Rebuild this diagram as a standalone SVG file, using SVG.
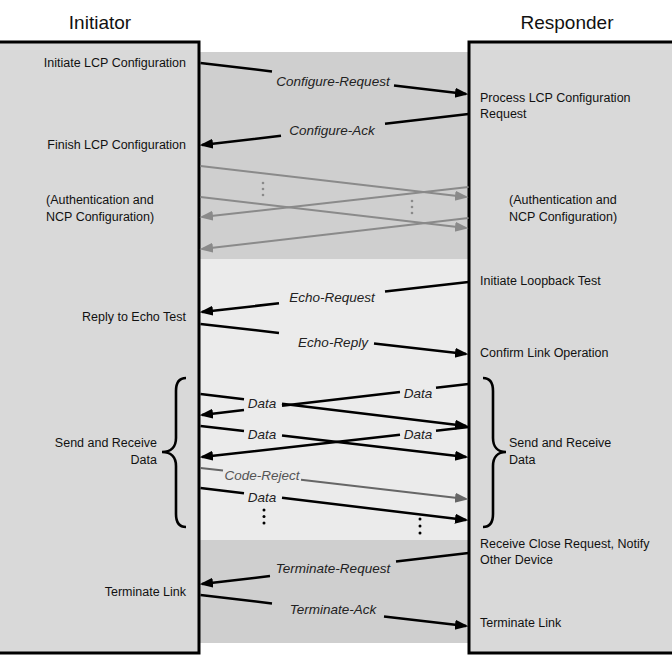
<svg xmlns="http://www.w3.org/2000/svg" width="672" height="660" viewBox="0 0 672 660">
<style>
.t{font-family:"Liberation Sans",Arial,sans-serif;font-size:12.5px;fill:#111}
.r{text-anchor:end}
.title{font-family:"Liberation Sans",Arial,sans-serif;font-size:19px;fill:#111;text-anchor:middle}
.lbl{font-family:"Liberation Sans",Arial,sans-serif;font-size:13.5px;font-style:italic;fill:#222;text-anchor:middle}
.lblg{font-family:"Liberation Sans",Arial,sans-serif;font-size:13.5px;font-style:italic;fill:#555;text-anchor:middle}
.ln{fill:none;stroke:#000;stroke-width:2.5;marker-end:url(#ah)}
.lg{fill:none;stroke:#8a8a8a;stroke-width:2;marker-end:url(#ahg)}
.lc{fill:none;stroke:#666;stroke-width:2;marker-end:url(#ahc)}
.panel{fill:#d9d9d9}
.border{fill:none;stroke:#000;stroke-width:3}
.brace{fill:none;stroke:#000;stroke-width:2.6}
</style>
<defs>
<marker id="ah" markerUnits="userSpaceOnUse" markerWidth="15" markerHeight="11" refX="11" refY="5" orient="auto"><path d="M0,0 L13.5,5 L0,10 z" fill="#000"/></marker>
<marker id="ahg" markerUnits="userSpaceOnUse" markerWidth="15" markerHeight="11" refX="11" refY="5" orient="auto"><path d="M0,0 L13.5,5 L0,10 z" fill="#8a8a8a"/></marker>
<marker id="ahc" markerUnits="userSpaceOnUse" markerWidth="15" markerHeight="11" refX="11" refY="5" orient="auto"><path d="M0,0 L13.5,5 L0,10 z" fill="#666"/></marker>
</defs>
<rect width="672" height="660" fill="#fff"/>
<g id="bands">
<rect x="200" y="52" width="269" height="207" fill="#cfcfcf"/>
<rect x="200" y="259" width="269" height="281" fill="#ebebeb"/>
<rect x="200" y="540" width="269" height="103" fill="#cfcfcf"/>
</g>
<g id="initiator">
<rect class="panel" x="0" y="42" width="199" height="611"/>
<path class="border" d="M0,42 H199 V653 H0"/>
<text class="title" x="100" y="29">Initiator</text>
</g>
<g id="responder">
<rect class="panel" x="469" y="42" width="203" height="611"/>
<path class="border" d="M672,42 H469 V653 H672"/>
<text class="title" x="567" y="29">Responder</text>
</g>
<g id="init-lcp"><text class="t r" x="186" y="67">Initiate LCP Configuration</text></g>
<g id="finish-lcp"><text class="t r" x="186" y="149">Finish LCP Configuration</text></g>
<g id="auth-left"><text class="t" x="46" y="204">(Authentication and</text><text class="t" x="46" y="221">NCP Configuration)</text></g>
<g id="reply-echo"><text class="t r" x="186" y="321">Reply to Echo Test</text></g>
<g id="data-left"><text class="t r" x="157" y="447">Send and Receive</text><text class="t r" x="157" y="464">Data</text>
<path class="brace" d="M186,378 C179,378 176,383 176,391 L176,438 C176,447 171,452 162,452 C171,452 176,457 176,466 L176,514 C176,522 179,527 186,527"/></g>
<g id="term-left"><text class="t r" x="186" y="596">Terminate Link</text></g>
<g id="process-lcp"><text class="t" x="480" y="102">Process LCP Configuration</text><text class="t" x="480" y="118">Request</text></g>
<g id="auth-right"><text class="t" x="509" y="204">(Authentication and</text><text class="t" x="509" y="221">NCP Configuration)</text></g>
<g id="loopback"><text class="t" x="480" y="285">Initiate Loopback Test</text></g>
<g id="confirm"><text class="t" x="480" y="357">Confirm Link Operation</text></g>
<g id="data-right"><text class="t" x="509" y="447">Send and Receive</text><text class="t" x="509" y="464">Data</text>
<path class="brace" d="M483,378 C490,378 493,383 493,391 L493,438 C493,447 498,452 506,452 C498,452 493,457 493,466 L493,514 C493,522 490,527 483,527"/></g>
<g id="close-req"><text class="t" x="480" y="548">Receive Close Request, Notify</text><text class="t" x="480" y="564">Other Device</text></g>
<g id="term-right"><text class="t" x="480" y="627">Terminate Link</text></g>
<g id="connectors">
<path class="ln" d="M200.5,63 L272,71.4 M394,85.6 L466,94"/>
<text class="lbl" x="333" y="86">Configure-Request</text>
<path class="ln" d="M468.5,114 L385,123.7 M281,135.8 L202,145"/>
<text class="lbl" x="332" y="135">Configure-Ack</text>
<path class="lg" d="M200.5,166 L466,197"/>
<path class="lg" d="M468.5,187 L202,217"/>
<path class="lg" d="M200.5,197 L466,228"/>
<path class="lg" d="M468.5,218 L202,249"/>
<g fill="#8a8a8a"><circle cx="263" cy="183" r="1.3"/><circle cx="263" cy="189" r="1.3"/><circle cx="263" cy="195" r="1.3"/><circle cx="412" cy="201" r="1.3"/><circle cx="412" cy="207" r="1.3"/><circle cx="412" cy="213" r="1.3"/></g>
<path class="ln" d="M468.5,282 L385,291.4 M279,303.3 L202,312"/>
<text class="lbl" x="332" y="302">Echo-Request</text>
<path class="ln" d="M200.5,324 L279,332.9 M374,343.6 L466,354"/>
<text class="lbl" x="333" y="347">Echo-Reply</text>
<path class="ln" d="M200.5,394 L244,399.2 M282,403.8 L466,426"/>
<path class="ln" d="M468.5,384 L436,387.8 M400,392 L282,405.7 M244,410.1 L202,415"/>
<text class="lbl" x="262" y="408">Data</text>
<text class="lbl" x="418" y="398">Data</text>
<path class="ln" d="M200.5,426 L244,431.1 M282,435.5 L466,457"/>
<path class="ln" d="M468.5,427 L436,430.7 M400,434.7 L202,457"/>
<text class="lbl" x="262" y="439">Data</text>
<text class="lbl" x="418" y="439">Data</text>
<path class="lc" d="M200.5,468 L223,470.6 M301,479.7 L466,499"/>
<text class="lblg" x="262" y="480">Code-Reject</text>
<path class="ln" d="M200.5,488 L244,493.2 M282,497.8 L466,520"/>
<text class="lbl" x="262" y="502">Data</text>
<g fill="#000"><circle cx="264" cy="510" r="1.5"/><circle cx="264" cy="516.5" r="1.5"/><circle cx="264" cy="523" r="1.5"/><circle cx="420" cy="519" r="1.5"/><circle cx="420" cy="526" r="1.5"/><circle cx="420" cy="533" r="1.5"/></g>
<path class="ln" d="M468.5,553 L396,561.4 M270,576.1 L202,584"/>
<text class="lbl" x="333" y="573">Terminate-Request</text>
<path class="ln" d="M200.5,595 L272,603.4 M384,616.4 L466,626"/>
<text class="lbl" x="333" y="614">Terminate-Ack</text>
</g>
</svg>
